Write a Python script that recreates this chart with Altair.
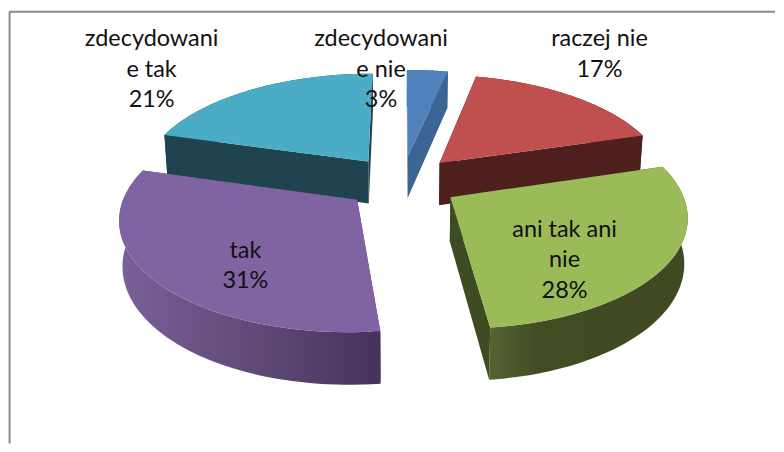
import math
import altair as alt

# ---- chart values -------------------------------------------------
categories = ["zdecydowanie nie", "raczej nie", "ani tak ani nie", "tak", "zdecydowanie tak"]
shares = [3.4, 17.0, 27.8, 31.2, 20.6]
top_colors = ["#4F81BD", "#C0504D", "#9BBB59", "#8064A2", "#4BACC6"]
wall_colors = ["#3A6594", "#4F1F1E", "#3F4B23", "#4A3660", "#1F444F"]
label_lines = [
    ["zdecydowani", "e nie", "3%"],
    ["raczej nie", "17%"],
    ["ani tak ani", "nie", "28%"],
    ["tak", "31%"],
    ["zdecydowani", "e tak", "21%"],
]
# ---- layout -------------------------------------------------------
W, H = 768, 436
OX, OY = 8, 8
XV, YV, A, C, K, EXPL, DEPTH, SHRINK = 401.8, 182.0, 229.0, 107.0, 0.15, 0.25, 43.5, 0.988
label_x = [381, 600, 565, 245, 151]
label_y = [39, 39, 230, 251, 39]
line_gap = 30.5
draw_order = [0, 4, 1, 3, 2]
FONT = "Lato"
FONT_SIZE = 23.5


def project(a, b, lower=False):
    s = 1 / (1 + K * b)
    x = XV + A * a * s
    y = YV - C * b * s
    if lower:
        x = XV + (x - XV) * SHRINK
        y = y + DEPTH * s
    return [x - OX, y - OY]


def feature(ring):
    ring = ring + [ring[0]]
    return {"type": "Feature", "properties": {},
            "geometry": {"type": "Polygon", "coordinates": [ring]}}


def shape(ring, fill):
    return alt.Chart(alt.Data(values=[feature(ring)])).mark_geoshape(
        fill=fill, stroke="transparent", strokeWidth=0
    ).project(type="identity", scale=1, translate=[0, 0])


total = sum(shares)
layers = []
edges = []
cum = 0.0
for v in shares:
    edges.append((cum / total * 2 * math.pi, (cum + v) / total * 2 * math.pi))
    cum += v

purple_grad = alt.Gradient(gradient="linear", x1=0, x2=1, y1=0, y2=0, stops=[
    alt.GradientStop(color="#7A5F99", offset=0),
    alt.GradientStop(color="#5F4876", offset=0.55),
    alt.GradientStop(color="#44335A", offset=1)])
green_grad = alt.Gradient(gradient="linear", x1=0, x2=1, y1=0, y2=0, stops=[
    alt.GradientStop(color="#566433", offset=0),
    alt.GradientStop(color="#414C23", offset=0.25),
    alt.GradientStop(color="#3F4A22", offset=1)])
outer_fill = {3: purple_grad, 2: green_grad}

for i in draw_order:
    t0, t1 = edges[i]
    mid = (t0 + t1) / 2
    ca, cb = EXPL * math.sin(mid), EXPL * math.cos(mid)
    n = 60
    arc = [(ca + math.sin(t0 + (t1 - t0) * j / n), cb + math.cos(t0 + (t1 - t0) * j / n)) for j in range(n + 1)]
    top = [project(ca, cb)] + [project(a, b) for a, b in arc]
    outer = [project(a, b) for a, b in arc] + [project(a, b, True) for a, b in reversed(arc)]
    for a, b in (arc[0], arc[-1]):
        cut = [project(ca, cb), project(a, b), project(a, b, True), project(ca, cb, True)]
        layers.append(shape(cut, wall_colors[i]))
    layers.append(shape(outer, outer_fill.get(i, wall_colors[i])))
    layers.append(shape(top, top_colors[i]))

rows = []
for i, lines in enumerate(label_lines):
    for j, line in enumerate(lines):
        rows.append({"t": line, "px": label_x[i] - OX, "py": label_y[i] + j * line_gap - OY})

text = alt.Chart(alt.Data(values=rows)).mark_text(
    font=FONT, fontSize=FONT_SIZE, color="#111111", align="center", baseline="middle"
).encode(
    x=alt.X("px:Q", scale=None, axis=None),
    y=alt.Y("py:Q", scale=None, axis=None),
    text="t:N",
)

frame_v = alt.Chart(alt.Data(values=[{"a": 1}])).mark_rule(color="#8A8A8A", strokeWidth=2).encode(
    x=alt.value(0.6), y=alt.value(3.3), y2=alt.value(H))
frame_h = alt.Chart(alt.Data(values=[{"a": 1}])).mark_rule(color="#8A8A8A", strokeWidth=2).encode(
    y=alt.value(3.3), x=alt.value(0), x2=alt.value(W))

chart = alt.layer(frame_v, frame_h, *layers, text).properties(
    width=W, height=H, padding=0, background="white"
).configure_view(stroke=None)

chart.save("out.html", embed_options={"renderer": "svg", "actions": False})
